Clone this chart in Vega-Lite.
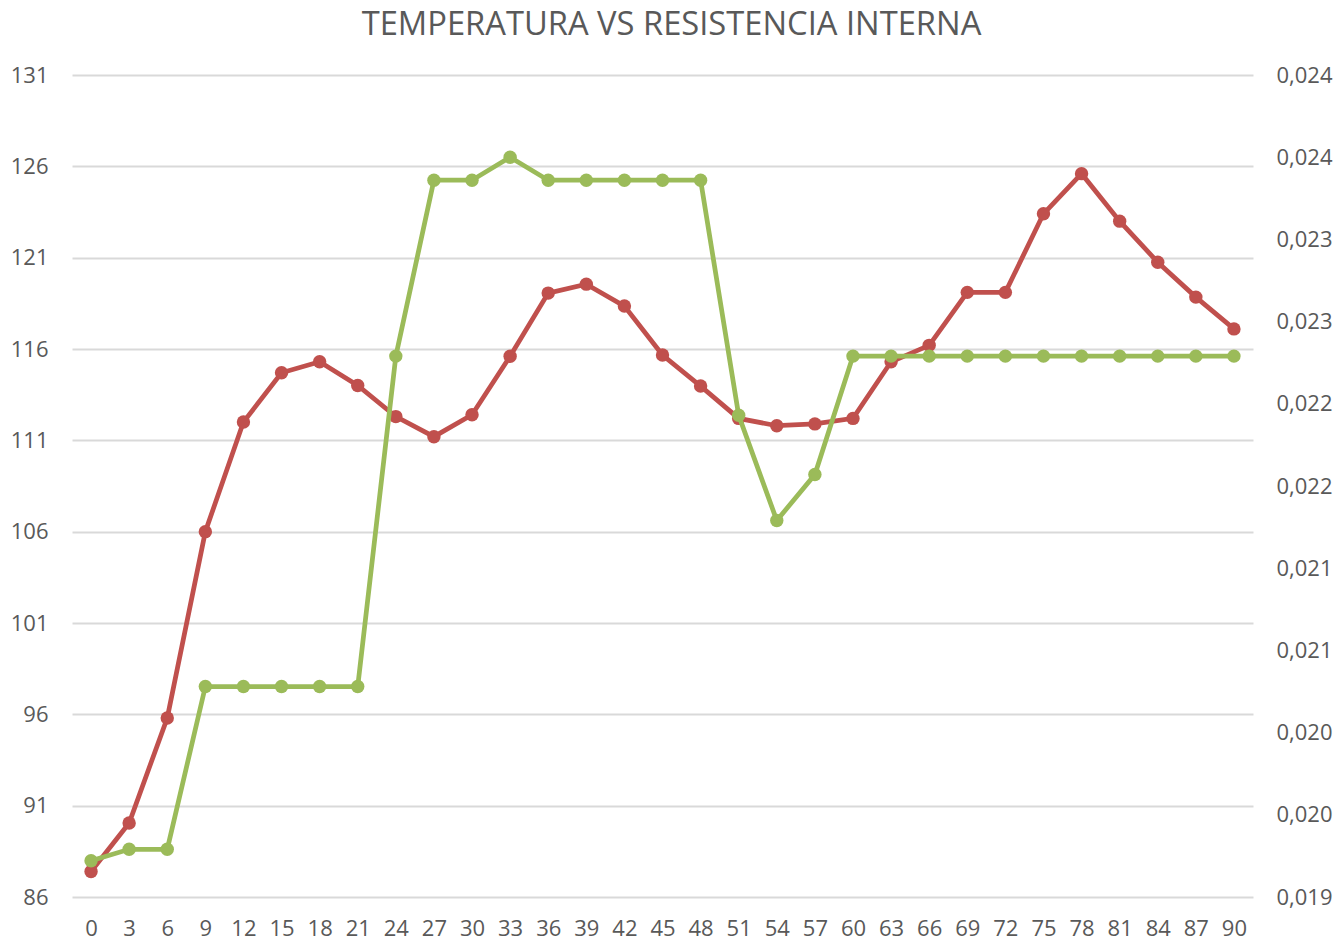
{
  "$schema": "https://vega.github.io/schema/vega-lite/v6.json",
  "width": 1181,
  "height": 822,
  "autosize": {"type": "none"},
  "padding": {"left": 72, "top": 75, "right": 81, "bottom": 43},
  "background": "#ffffff",
  "title": {
    "text": "TEMPERATURA VS RESISTENCIA INTERNA",
    "font": "Open Sans",
    "fontSize": 32.7,
    "fontWeight": "normal",
    "color": "#595959",
    "anchor": "middle",
    "dx": 9,
    "offset": 22
  },
  "config": {
    "view": {"stroke": null},
    "axis": {
      "labelFont": "Open Sans",
      "labelFontSize": 22,
      "labelColor": "#595959",
      "domain": false,
      "ticks": false,
      "gridColor": "#d9d9d9",
      "gridWidth": 2,
      "title": null
    }
  },
  "data": {
    "values": [
      {"t": 0, "temp": 87.4, "res": 0.01922},
      {"t": 3, "temp": 90.05, "res": 0.01929},
      {"t": 6, "temp": 95.8, "res": 0.01929},
      {"t": 9, "temp": 106.0, "res": 0.02028},
      {"t": 12, "temp": 112.0, "res": 0.02028},
      {"t": 15, "temp": 114.7, "res": 0.02028},
      {"t": 18, "temp": 115.3, "res": 0.02028},
      {"t": 21, "temp": 114.0, "res": 0.02028},
      {"t": 24, "temp": 112.3, "res": 0.02229},
      {"t": 27, "temp": 111.2, "res": 0.02336},
      {"t": 30, "temp": 112.4, "res": 0.02336},
      {"t": 33, "temp": 115.6, "res": 0.0235},
      {"t": 36, "temp": 119.06, "res": 0.02336},
      {"t": 39, "temp": 119.55, "res": 0.02336},
      {"t": 42, "temp": 118.35, "res": 0.02336},
      {"t": 45, "temp": 115.67, "res": 0.02336},
      {"t": 48, "temp": 113.97, "res": 0.02336},
      {"t": 51, "temp": 112.2, "res": 0.02193},
      {"t": 54, "temp": 111.8, "res": 0.02129},
      {"t": 57, "temp": 111.9, "res": 0.02157},
      {"t": 60, "temp": 112.2, "res": 0.02229},
      {"t": 63, "temp": 115.3, "res": 0.02229},
      {"t": 66, "temp": 116.2, "res": 0.02229},
      {"t": 69, "temp": 119.1, "res": 0.02229},
      {"t": 72, "temp": 119.1, "res": 0.02229},
      {"t": 75, "temp": 123.4, "res": 0.02229},
      {"t": 78, "temp": 125.6, "res": 0.02229},
      {"t": 81, "temp": 123.0, "res": 0.02229},
      {"t": 84, "temp": 120.75, "res": 0.02229},
      {"t": 87, "temp": 118.84, "res": 0.02229},
      {"t": 90, "temp": 117.1, "res": 0.02229}
    ]
  },
  "encoding": {
    "x": {
      "field": "t",
      "type": "ordinal",
      "sort": null,
      "scale": {"type": "point", "padding": 0.5},
      "axis": {"labelAngle": 0, "grid": false, "labelPadding": 21}
    }
  },
  "layer": [
    {
      "mark": {
        "type": "line",
        "color": "#C0504D",
        "strokeWidth": 4.75,
        "point": {"filled": true, "size": 180, "color": "#C0504D", "opacity": 1}
      },
      "encoding": {
        "y": {
          "field": "temp",
          "type": "quantitative",
          "scale": {"domain": [86, 131], "nice": false, "zero": false},
          "axis": {
            "values": [86, 91, 96, 101, 106, 111, 116, 121, 126, 131],
            "grid": true,
            "labelPadding": 24
          }
        }
      }
    },
    {
      "mark": {
        "type": "line",
        "color": "#9BBB59",
        "strokeWidth": 4.75,
        "point": {"filled": true, "size": 180, "color": "#9BBB59", "opacity": 1}
      },
      "encoding": {
        "y": {
          "field": "res",
          "type": "quantitative",
          "scale": {"domain": [0.019, 0.024], "nice": false, "zero": false},
          "axis": {
            "orient": "right",
            "values": [0.019, 0.0195, 0.02, 0.0205, 0.021, 0.0215, 0.022, 0.0225, 0.023, 0.0235, 0.024],
            "grid": false,
            "labelPadding": 23,
            "labelExpr": "replace(format(datum.value + 0.0000001, '.3f'), '.', ',')"
          }
        }
      }
    }
  ],
  "resolve": {"scale": {"y": "independent"}}
}
